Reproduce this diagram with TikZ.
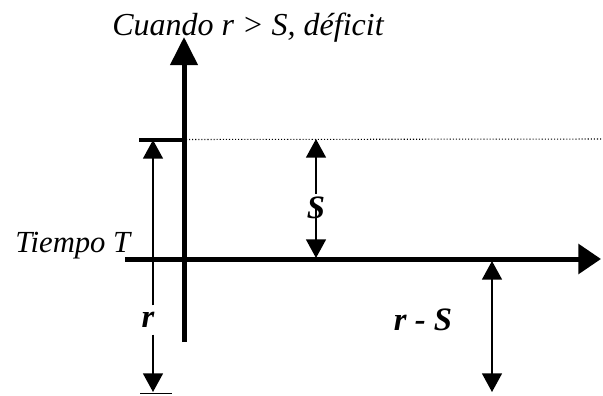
\documentclass[tikz,border=0pt]{standalone}
\usepackage{fontspec}
\setmainfont{Liberation Serif}
\usetikzlibrary{arrows.meta}
\tikzset{
  axisline/.style={line width=3.75pt},
  thinarrow/.style={line width=1.1pt},
  thintip/.style={-{Triangle[length=14pt,width=15pt]}},
  lbl/.style={font=\fontsize{24.5}{26}\selectfont\bfseries\itshape, inner sep=2pt},
  txt/.style={font=\fontsize{23}{25}\selectfont\itshape, inner sep=0pt}
}
\begin{document}
\begin{tikzpicture}[x=0.75pt,y=-0.75pt]
\useasboundingbox (0,0) rectangle (603,396);
% axes
\coordinate (vb) at (184,342);
\coordinate (vt) at (184,37);
\coordinate (hl) at (125,259);
\coordinate (hr) at (601,259);
\draw[axisline,-{Triangle[length=21pt,width=20pt]}] (vb) -- (vt);
\draw[axisline,-{Triangle[length=17pt,width=22pt]}] (hl) -- (hr);
% top bar and dotted level
\coordinate (barl) at (139,139.5);
\coordinate (barr) at (186,139.5);
\coordinate (dote) at (603,139);
\draw[line width=3pt] (barl) -- (barr);
\draw[line width=0.8pt,dash pattern=on 0.8pt off 1.5pt] (barr) -- (dote);
% r arrow
\coordinate (rtop) at (153,140);
\coordinate (rbot) at (153,392);
\node[lbl,inner sep=5pt] (rl) at (148,320) {r};
\draw[thinarrow,thintip] (rl.north -| rtop) -- (rtop);
\draw[thinarrow,thintip] (rl.south -| rbot) -- (rbot);
\coordinate (bl) at (140,393.5);
\coordinate (br) at (172,393.5);
\draw[line width=1pt] (bl) -- (br);
% S arrow
\coordinate (stop) at (316,139);
\coordinate (sbot) at (316,258);
\node[lbl] (sl) at (316,208) {S};
\draw[thinarrow,thintip] (sl.north) -- (stop);
\draw[thinarrow,thintip] (sl.center) -- (sbot);
% r - S arrow
\coordinate (rstop) at (492,261);
\coordinate (rsbot) at (492,392);
\draw[thinarrow,{Triangle[length=14pt,width=15pt]}-{Triangle[length=14pt,width=15pt]}] (rstop) -- (rsbot);
\node[lbl] (rsl) at (423,320) {r - S};
% texts
\node[txt,anchor=base west] (tiempo) at (15,252) {Tiempo T};
\node[txt,anchor=base west,font=\fontsize{24}{26}\selectfont\itshape] (cuando) at (112,35) {Cuando r > S, déficit};
\end{tikzpicture}
\end{document}
